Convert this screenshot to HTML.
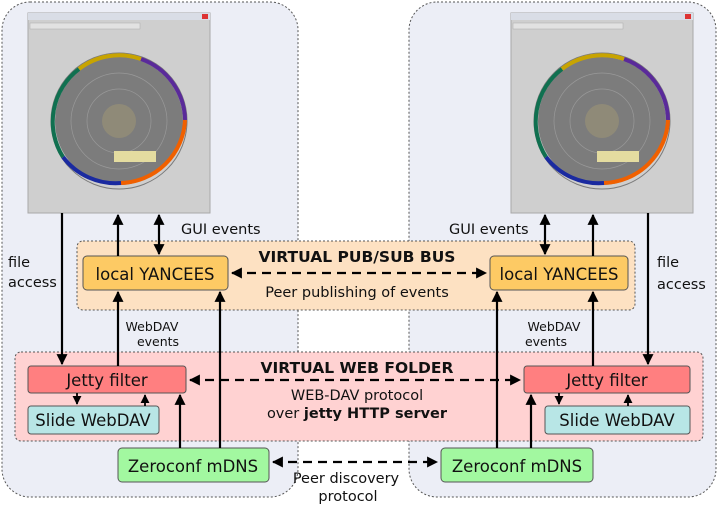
<!DOCTYPE html>
<html><head><meta charset="utf-8"><style>
html,body{margin:0;padding:0;background:#fff;}
svg{display:block;font-family:"DejaVu Sans","Liberation Sans",sans-serif;}
</style></head><body>
<svg width="719" height="507" viewBox="0 0 719 507" xmlns="http://www.w3.org/2000/svg">
<defs>
<marker id="ah" viewBox="0 0 10 10" refX="9" refY="5" markerWidth="5" markerHeight="5" orient="auto-start-reverse"><path d="M0,0L10,5L0,10z" fill="#000"/></marker>
<g id="shot">
<rect x="0" y="0" width="182" height="200" fill="#cfcfcf" stroke="#a8a8a8"/>
<rect x="0" y="0" width="182" height="7" fill="#d9dde6"/>
<rect x="174" y="1" width="6" height="5" fill="#d33"/>
<rect x="2" y="10" width="110" height="6" fill="#e2e2e2" stroke="#aaa" stroke-width="0.5"/>
<g transform="translate(91,108)">
<circle r="68" fill="none" stroke="#7a7a7a" stroke-width="1"/>
<circle r="64" fill="#7c7c7c"/>
<path d="M-40,-52 A66,66 0 0 1 22,-62" stroke="#c8a400" stroke-width="4" fill="none"/>
<path d="M22,-62 A66,66 0 0 1 66,-1" stroke="#5a2a9a" stroke-width="4" fill="none"/>
<path d="M66,-1 A66,66 0 0 1 2,62" stroke="#f06000" stroke-width="4" fill="none"/>
<path d="M2,62 A66,66 0 0 1 -56,36" stroke="#1a2aa0" stroke-width="4" fill="none"/>
<path d="M-56,36 A66,66 0 0 1 -40,-52" stroke="#107050" stroke-width="4" fill="none"/>
<circle r="48" fill="none" stroke="#999" stroke-width="0.7"/>
<circle r="32" fill="none" stroke="#999" stroke-width="0.7"/>
<circle r="17" fill="#8f8a78"/>
<rect x="-5" y="30" width="42" height="11" fill="#e4dca0"/>
</g>
</g>
</defs>

<rect x="2" y="2" width="296" height="495" rx="28" fill="#eceef6" stroke="#555" stroke-dasharray="2,2"/>
<rect x="409" y="2" width="307" height="495" rx="28" fill="#eceef6" stroke="#555" stroke-dasharray="2,2"/>

<use href="#shot" x="28" y="13"/>
<use href="#shot" x="511" y="13"/>

<rect x="77" y="241" width="558" height="69" rx="6" fill="#fde1c2" stroke="#555" stroke-dasharray="2,2"/>
<rect x="15" y="352" width="688" height="89" rx="6" fill="#ffd2d2" stroke="#555" stroke-dasharray="2,2"/>

<rect x="83" y="256" width="145" height="34" rx="4" fill="#fdca64" stroke="#555"/>
<rect x="490" y="256" width="138" height="34" rx="4" fill="#fdca64" stroke="#555"/>
<rect x="28" y="366" width="158" height="27" rx="3" fill="#ff7f80" stroke="#555"/>
<rect x="524" y="366" width="166" height="27" rx="3" fill="#ff7f80" stroke="#555"/>
<rect x="28" y="406" width="131" height="28" rx="3" fill="#b8e6e6" stroke="#555"/>
<rect x="545" y="406" width="145" height="28" rx="3" fill="#b8e6e6" stroke="#555"/>
<rect x="118" y="448" width="151" height="34" rx="4" fill="#a2f8a0" stroke="#555"/>
<rect x="441" y="448" width="152" height="34" rx="4" fill="#a2f8a0" stroke="#555"/>

<g stroke="#000" stroke-width="2.2" fill="none" marker-end="url(#ah)">
<line x1="62" y1="213" x2="62" y2="364"/>
<line x1="118" y1="256" x2="118" y2="215"/>
<line x1="159" y1="215" x2="159" y2="254" marker-start="url(#ah)"/>
<line x1="118" y1="366" x2="118" y2="292"/>
<line x1="220" y1="448" x2="220" y2="292"/>
<line x1="180" y1="448" x2="180" y2="395"/>
<line x1="77" y1="393" x2="77" y2="404" stroke-width="1.8"/>
<line x1="145" y1="406" x2="145" y2="395" stroke-width="1.8"/>
<line x1="545" y1="215" x2="545" y2="254" marker-start="url(#ah)"/>
<line x1="593" y1="256" x2="593" y2="215"/>
<line x1="648" y1="213" x2="648" y2="364"/>
<line x1="593" y1="366" x2="593" y2="292"/>
<line x1="497" y1="448" x2="497" y2="292"/>
<line x1="531" y1="448" x2="531" y2="395"/>
<line x1="559" y1="393" x2="559" y2="404" stroke-width="1.8"/>
<line x1="628" y1="406" x2="628" y2="395" stroke-width="1.8"/>
<line x1="232" y1="273" x2="486" y2="273" stroke-dasharray="9,6" marker-start="url(#ah)"/>
<line x1="190" y1="380" x2="520" y2="380" stroke-dasharray="9,6" marker-start="url(#ah)"/>
<line x1="273" y1="462" x2="437" y2="462" stroke-dasharray="9,6" marker-start="url(#ah)"/>
</g>

<g font-size="16.5" fill="#111" text-anchor="middle">
<text x="155" y="280">local YANCEES</text>
<text x="559" y="280">local YANCEES</text>
<text x="107" y="386">Jetty filter</text>
<text x="607" y="386">Jetty filter</text>
<text x="93" y="426">Slide WebDAV</text>
<text x="617" y="426">Slide WebDAV</text>
<text x="193" y="472">Zeroconf mDNS</text>
<text x="517" y="472">Zeroconf mDNS</text>
</g>
<g font-size="14.5" fill="#111">
<text x="181" y="234">GUI events</text>
<text x="449" y="234">GUI events</text>
<text x="8" y="267">file</text>
<text x="8" y="287">access</text>
<text x="657" y="267">file</text>
<text x="657" y="289">access</text>
<text x="357" y="297" text-anchor="middle">Peer publishing of events</text>
<text x="357" y="400" text-anchor="middle">WEB-DAV protocol</text>
<text x="357" y="418" text-anchor="middle">over <tspan font-weight="bold">jetty HTTP server</tspan></text>
<text x="346" y="483" text-anchor="middle">Peer discovery</text>
<text x="348" y="501" text-anchor="middle">protocol</text>
<text x="357" y="262" text-anchor="middle" font-weight="bold" font-size="15.5">VIRTUAL PUB/SUB BUS</text>
<text x="357" y="373" text-anchor="middle" font-weight="bold" font-size="15.5">VIRTUAL WEB FOLDER</text>
</g>
<g font-size="12.5" fill="#111" text-anchor="middle">
<text x="152" y="331">WebDAV</text>
<text x="158" y="346">events</text>
<text x="554" y="331">WebDAV</text>
<text x="546" y="346">events</text>
</g>
</svg>
</body></html>
